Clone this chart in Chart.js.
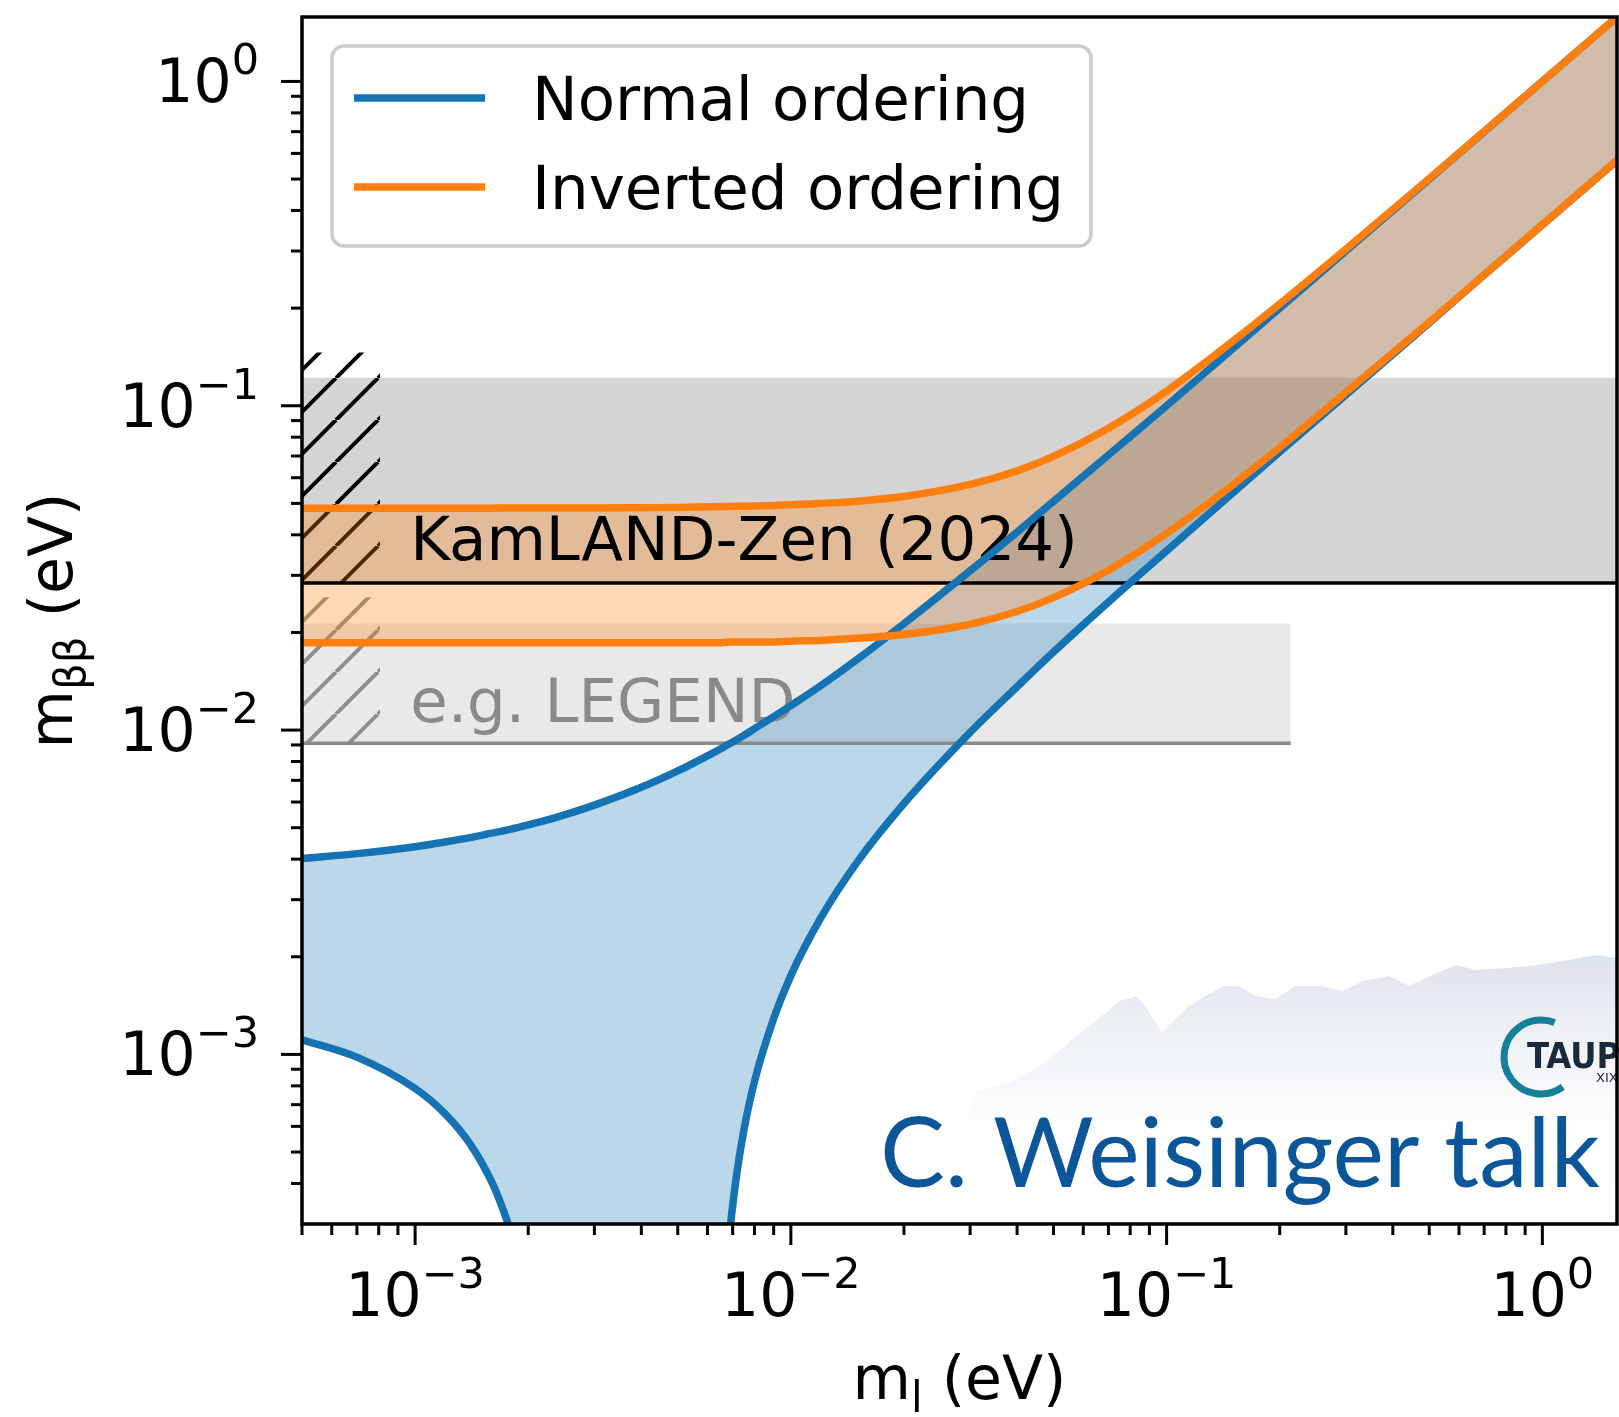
<!DOCTYPE html>
<html>
<head>
<meta charset="utf-8">
<script src="https://cdn.jsdelivr.net/npm/chart.js@4.4.1/dist/chart.umd.min.js"></script>
<style>
  html, body { margin: 0; padding: 0; background: #fff; }
  #wrap { width: 1619px; height: 1417px; }
</style>
</head>
<body>
<div id="wrap"><canvas id="c" width="1619" height="1417"></canvas></div>
<script>
// lightest neutrino mass m_l (eV)
const mLightest = [5e-4, 7e-4, 1e-3, 1.2e-3, 1.4e-3, 1.6e-3, 1.7e-3, 1.8e-3, 2e-3, 2.2e-3,
  2.4e-3, 3e-3, 4e-3, 5e-3, 6e-3, 6.6e-3, 6.9e-3, 7e-3, 7.2e-3, 7.5e-3,
  8e-3, 9e-3, 1e-2, 1.2e-2, 1.5e-2, 2e-2, 3e-2, 4e-2, 5e-2, 7e-2,
  0.1, 0.15, 0.2, 0.3, 0.5, 0.7, 1.0, 1.6];

// m_bb band edges (eV); 1e-6 = below the axis (band reaches zero there)
const noUpper = [0.00402, 0.00416, 0.00437, 0.00452, 0.00466, 0.00481, 0.00488, 0.00495, 0.00510, 0.00525,
  0.00540, 0.00587, 0.00666, 0.00748, 0.00833, 0.00884, 0.00910, 0.00919, 0.00936, 0.00963,
  0.0101, 0.0110, 0.0119, 0.0137, 0.0165, 0.0213, 0.0310, 0.0408, 0.0507, 0.0705,
  0.100, 0.150, 0.200, 0.300, 0.500, 0.700, 1.00, 1.60];
const noLower = [0.00111, 0.000981, 0.000785, 0.000657, 0.000530, 0.000404, 0.000341, 0.000279, 0.000155, 0.000033,
  1e-6, 1e-6, 1e-6, 1e-6, 1e-6, 0.000145, 0.000293, 0.000341, 0.000439, 0.000585,
  0.000824, 0.00129, 0.00175, 0.00263, 0.00391, 0.00594, 0.00984, 0.0136, 0.0174, 0.0248,
  0.0357, 0.0539, 0.0720, 0.108, 0.180, 0.253, 0.361, 0.578];
const ioUpper = [0.0483, 0.0483, 0.0483, 0.0483, 0.0483, 0.0483, 0.0484, 0.0484, 0.0484, 0.0484,
  0.0484, 0.0484, 0.0485, 0.0486, 0.0488, 0.0489, 0.0489, 0.0489, 0.0490, 0.0490,
  0.0491, 0.0493, 0.0495, 0.0500, 0.0508, 0.0525, 0.0572, 0.0630, 0.0698, 0.0853,
  0.111, 0.158, 0.206, 0.304, 0.502, 0.702, 1.00, 1.60];
const ioLower = [0.0186, 0.0186, 0.0186, 0.0186, 0.0186, 0.0186, 0.0186, 0.0186, 0.0186, 0.0186,
  0.0186, 0.0186, 0.0186, 0.0186, 0.0186, 0.0186, 0.0187, 0.0187, 0.0187, 0.0187,
  0.0187, 0.0187, 0.0188, 0.0189, 0.0192, 0.0197, 0.0212, 0.0232, 0.0256, 0.0311,
  0.0404, 0.0571, 0.0744, 0.110, 0.181, 0.253, 0.362, 0.578];

// experimental sensitivity bands (eV)
const kamlandBand = [0.0284, 0.122];
const kamlandHatchTop = 0.146;
const legendBand = [0.0091, 0.0213];
const legendHatchTop = 0.0257;
const legendBandEnd = 0.214;
const hatchEnd = 8.07e-4;

const seriesLabels = ['Normal ordering', 'Inverted ordering'];
const bandLabels = ['KamLAND-Zen (2024)', 'e.g. LEGEND'];
const bandLabelAt = [[9.7e-4, 0.0334], [9.7e-4, 0.01058]];

const xRange = [5e-4, 1.58];
const yRange = [3.29e-4, 1.58];
const majorTicks = [1e-3, 1e-2, 1e-1, 1];
const tickExponents = ['\u22123', '\u22122', '\u22121', '0'];

const BLUE = '#1573b4', ORANGE = '#ff7f0e';
const FONT = '"DejaVu Sans", sans-serif';

const ctx = document.getElementById('c').getContext('2d');

function hatch(color, gap, lw) {
  const c = document.createElement('canvas');
  c.width = gap; c.height = gap;
  const g = c.getContext('2d');
  g.strokeStyle = color; g.lineWidth = lw;
  g.beginPath();
  for (const o of [-gap, 0, gap]) { g.moveTo(o, gap); g.lineTo(o + gap, 0); }
  g.stroke();
  return ctx.createPattern(c, 'repeat');
}

const pts = ys => mLightest.map((x, i) => ({ x, y: ys[i] }));
const flat = (y, x0, x1) => [{ x: x0, y }, { x: x1, y }];
const line = { pointRadius: 0, clip: 0, cubicInterpolationMode: 'monotone' };
const LW = 7.5;

const datasets = [
  // 0,1 inverted ordering
  { ...line, label: seriesLabels[1], data: pts(ioUpper), borderColor: ORANGE, borderWidth: LW,
    fill: 1, backgroundColor: 'rgba(255,127,14,0.3)' },
  { ...line, label: '', data: pts(ioLower), borderColor: ORANGE, borderWidth: LW, fill: false },
  // 2,3 normal ordering
  { ...line, label: seriesLabels[0], data: pts(noUpper), borderColor: BLUE, borderWidth: LW,
    fill: 3, backgroundColor: 'rgba(31,122,185,0.3)' },
  { ...line, label: '', data: pts(noLower), borderColor: BLUE, borderWidth: LW, fill: false },
  // 4 KamLAND-Zen limit line, 5 LEGEND goal line
  { ...line, data: flat(kamlandBand[0], 1e-4, 10), borderColor: '#000', borderWidth: 3.5, fill: false },
  { ...line, data: flat(legendBand[0], 1e-4, legendBandEnd), borderColor: '#8a8a8a', borderWidth: 3.5, fill: false },
  // 6,7 hatches
  { ...line, data: flat(kamlandHatchTop, 1e-4, hatchEnd), borderWidth: 0,
    fill: { value: kamlandBand[0] }, backgroundColor: hatch('#000', 42, 4) },
  { ...line, data: flat(legendHatchTop, 1e-4, hatchEnd), borderWidth: 0,
    fill: { value: legendBand[0] }, backgroundColor: hatch('#8f8f8f', 42, 4) },
  // 8,9 bands
  { ...line, data: flat(kamlandBand[1], 1e-4, 10), borderWidth: 0,
    fill: { value: kamlandBand[0] }, backgroundColor: 'rgba(0,0,0,0.165)' },
  { ...line, data: flat(legendBand[1], 1e-4, legendBandEnd), borderWidth: 0,
    fill: { value: legendBand[0] }, backgroundColor: 'rgba(0,0,0,0.088)' }
];

function supLabel(c, x, y, exp, align) {
  c.font = '60px ' + FONT;
  const wb = c.measureText('10').width;
  c.font = '43px ' + FONT;
  const ws = c.measureText(exp).width;
  const left = align === 'right' ? x - wb - ws : x - (wb + ws) / 2;
  c.textAlign = 'left';
  c.textBaseline = 'alphabetic';
  c.font = '60px ' + FONT;
  c.fillText('10', left, y);
  c.font = '43px ' + FONT;
  c.fillText(exp, left + wb, y - 28);
}

function subText(c, x, y, main, sub, rest) {
  // draws main + subscript + rest, centered on x, baseline y
  c.font = '60px ' + FONT;
  const w1 = c.measureText(main).width, w3 = c.measureText(rest).width;
  c.font = '42px ' + FONT;
  const w2 = c.measureText(sub).width;
  const left = x - (w1 + w2 + w3) / 2;
  c.textAlign = 'left'; c.textBaseline = 'alphabetic';
  c.font = '60px ' + FONT; c.fillText(main, left, y);
  c.font = '42px ' + FONT; c.fillText(sub, left + w1, y + 13);
  c.font = '60px ' + FONT; c.fillText(rest, left + w1 + w2, y);
}

const decor = {
  id: 'decor',
  beforeDatasetsDraw(chart) {
    const c = chart.ctx, xs = chart.scales.x, ys = chart.scales.y;
    c.save();
    c.font = '61px ' + FONT;
    c.textBaseline = 'alphabetic'; c.textAlign = 'left';
    c.fillStyle = '#000';
    c.fillText(bandLabels[0], xs.getPixelForValue(bandLabelAt[0][0]), ys.getPixelForValue(bandLabelAt[0][1]));
    c.fillStyle = '#8a8a8a';
    c.fillText(bandLabels[1], xs.getPixelForValue(bandLabelAt[1][0]), ys.getPixelForValue(bandLabelAt[1][1]));
    c.restore();
  },
  afterDatasetsDraw(chart) {
    const c = chart.ctx, a = chart.chartArea, xs = chart.scales.x, ys = chart.scales.y;
    c.save();

    // talk watermark (background mountains + logo + text)
    const ridge = [[950, 1178], [975, 1092], [1012, 1082], [1043, 1064], [1074, 1038], [1100, 1017],
      [1120, 1001], [1136, 996], [1146, 1007], [1162, 1033], [1172, 1022], [1188, 1007], [1203, 997],
      [1224, 986], [1239, 986], [1255, 996], [1275, 999], [1296, 986], [1322, 986], [1342, 991],
      [1363, 981], [1389, 976], [1409, 986], [1430, 976], [1456, 965], [1476, 970], [1507, 968],
      [1538, 965], [1569, 960], [1595, 955], [1617, 958], [1617, 1178]];
    const grad = c.createLinearGradient(0, 950, 0, 1180);
    grad.addColorStop(0, 'rgba(205,214,227,0.7)');
    grad.addColorStop(0.55, 'rgba(232,237,243,0.45)');
    grad.addColorStop(1, 'rgba(255,255,255,0)');
    c.beginPath();
    ridge.forEach(([px, py], i) => i ? c.lineTo(px, py) : c.moveTo(px, py));
    c.closePath();
    c.fillStyle = grad; c.fill();

    c.lineWidth = 7; c.strokeStyle = '#167f99';
    c.beginPath(); c.arc(1541, 1057, 37, Math.PI * 0.3, Math.PI * 1.62); c.stroke();
    c.font = 'bold 36px "Liberation Sans Narrow", "DejaVu Sans Condensed", sans-serif';
    c.fillStyle = '#1b2a3a'; c.textAlign = 'left'; c.textBaseline = 'alphabetic';
    c.fillText('TAUP', 1527, 1068);
    c.font = '13px ' + FONT; c.fillText('XIX', 1596, 1082);

    c.font = '96px Lato, "Open Sans", sans-serif';
    c.fillStyle = '#0b5699';
    const wt = c.measureText('C. Weisinger talk').width;
    c.save();
    c.translate(880, 1187);
    c.scale(720 / wt, 1);
    c.fillText('C. Weisinger talk', 0, 0);
    c.restore();

    // spines
    c.strokeStyle = '#000'; c.lineWidth = 3.5;
    c.strokeRect(a.left, a.top, a.right - a.left, a.bottom - a.top);

    // ticks
    c.lineWidth = 3;
    for (let e = -4; e <= 0; e++) {
      for (let k = 1; k <= 9; k++) {
        const v = k * Math.pow(10, e);
        const len = k === 1 ? 21 : 11;
        if (v >= xRange[0] && v <= xRange[1]) {
          const px = xs.getPixelForValue(v);
          c.beginPath(); c.moveTo(px, a.bottom); c.lineTo(px, a.bottom + len); c.stroke();
        }
        if (v >= yRange[0] && v <= yRange[1]) {
          const py = ys.getPixelForValue(v);
          c.beginPath(); c.moveTo(a.left, py); c.lineTo(a.left - len, py); c.stroke();
        }
      }
    }

    // tick labels
    c.fillStyle = '#000';
    majorTicks.forEach((v, i) => {
      supLabel(c, xs.getPixelForValue(v), 1316, tickExponents[i], 'center');
      supLabel(c, 259, ys.getPixelForValue(v) + 21, tickExponents[i], 'right');
    });

    // axis titles
    subText(c, (a.left + a.right) / 2, 1399, 'm', 'l', ' (eV)');
    c.save();
    c.translate(72, (a.top + a.bottom) / 2);
    c.rotate(-Math.PI / 2);
    subText(c, 0, 0, 'm', '\u03b2\u03b2', ' (eV)');
    c.restore();

    // legend
    const L = { x: 332, y: 46, w: 759, h: 200, r: 12 };
    c.beginPath();
    c.roundRect(L.x, L.y, L.w, L.h, L.r);
    c.fillStyle = 'rgba(255,255,255,0.8)'; c.fill();
    c.strokeStyle = '#cccccc'; c.lineWidth = 3.5; c.stroke();
    const items = [[seriesLabels[0], BLUE, 98], [seriesLabels[1], ORANGE, 187]];
    items.forEach(([txt, col, y]) => {
      c.strokeStyle = col; c.lineWidth = 7.5;
      c.beginPath(); c.moveTo(354, y); c.lineTo(485, y); c.stroke();
      c.fillStyle = '#000'; c.font = '61px ' + FONT;
      c.textAlign = 'left'; c.textBaseline = 'alphabetic';
      c.fillText(txt, 532, y + 22);
    });
    c.restore();
  }
};

new Chart(ctx, {
  type: 'line',
  data: { datasets },
  options: {
    responsive: false,
    animation: false,
    events: [],
    layout: { padding: { left: 302, top: 17, right: 2, bottom: 193 } },
    scales: {
      x: { type: 'logarithmic', min: xRange[0], max: xRange[1], display: false },
      y: { type: 'logarithmic', min: yRange[0], max: yRange[1], display: false }
    },
    plugins: {
      legend: { display: false },
      tooltip: { enabled: false },
      filler: { drawTime: 'beforeDatasetsDraw' }
    }
  },
  plugins: [decor]
});
</script>
</body>
</html>
